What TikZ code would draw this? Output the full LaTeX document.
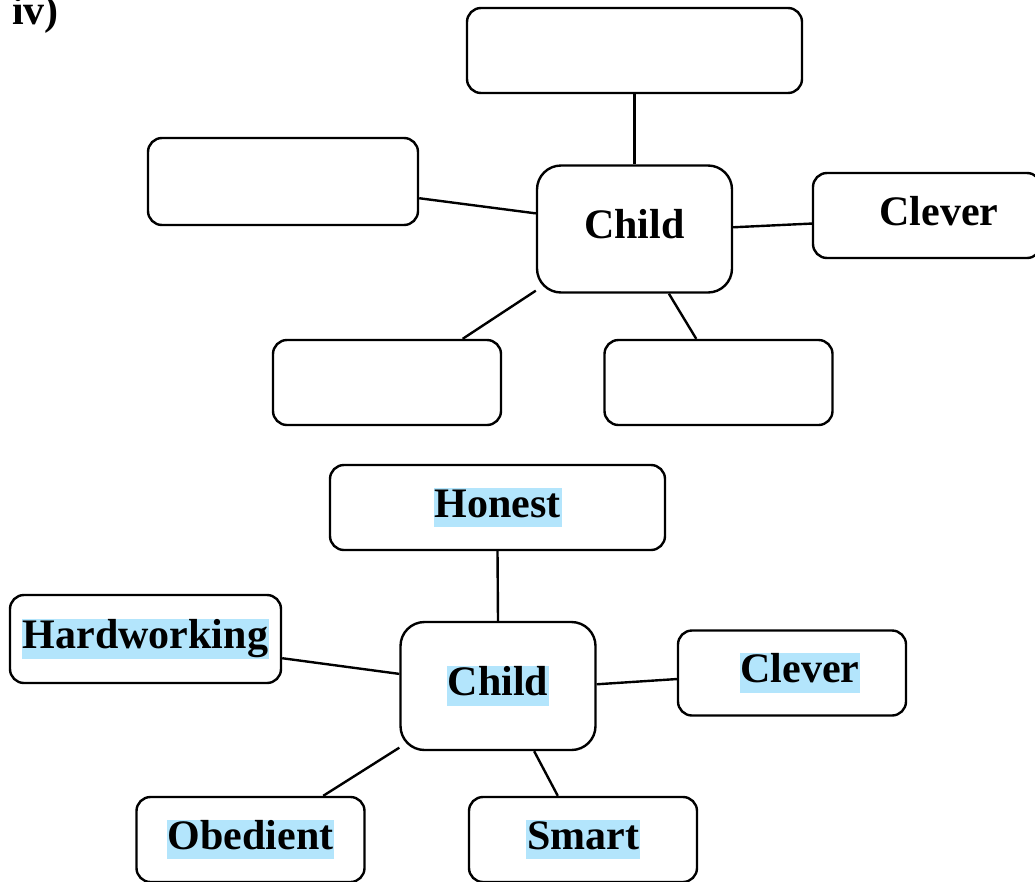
\documentclass[tikz,border=0pt]{standalone}
\usepackage{fontspec}
\setmainfont{Liberation Serif}
\definecolor{hlblue}{HTML}{B3E5FC}
\newcommand{\hl}[1]{{\setlength{\fboxsep}{0pt}\colorbox{hlblue}{\rule[-10pt]{0pt}{39pt}\kern1pt#1\kern1pt}}}
\newcommand{\nohl}[1]{\rule[-10pt]{0pt}{39pt}#1}

\begin{document}
\begin{tikzpicture}
[x=1pt,y=-1pt,line width=2.4pt,
  box/.style={draw,rounded corners=14pt,minimum width=228pt,minimum height=85pt,
    inner sep=0pt,font=\bfseries\fontsize{42}{50}\selectfont},
  hub/.style={box,rounded corners=24pt,minimum width=195pt,minimum height=127pt}]
  \path[use as bounding box,clip] (0,0) rectangle (1035,881);

  \node[anchor=base west,inner sep=0pt,font=\bfseries\fontsize{42}{50}\selectfont] (num) at (11,24) {iv)};

  % blank web
  \node[box,minimum width=335pt] (ttop) at (634.5,50.5) {};
  \node[box,minimum width=270pt,minimum height=87pt] (tleft) at (283,181.5) {};
  \node[hub] (tchild) at (634.5,229) {\nohl{Child}};
  \node[box] (tclever) at (927,215.5) {\hspace{24pt}\nohl{Clever}};
  \node[box] (tbl) at (387,382.5) {};
  \node[box] (tbr) at (718.5,382.5) {};

  % filled web
  \node[box,minimum width=335pt] (honest) at (497.5,507.5) {\hl{Honest}};
  \node[box,minimum width=271pt,minimum height=88pt] (hardworking) at (145.5,639) {\hl{Hardworking}};
  \node[hub,minimum height=128pt] (child) at (498,686) {\hl{Child}};
  \node[box] (clever) at (792,673) {\hspace{16pt}\hl{Clever}};
  \node[box] (obedient) at (250.5,839.5) {\hl{Obedient}};
  \node[box] (smart) at (583,839.5) {\hl{Smart}};

   \foreach \from/\to in {ttop.south/tchild.north, tleft.-7.8/tchild.171.8,
      tchild.1.8/tclever.-176.7, tchild.-148/tbl.30.9, tchild.-62/tbr.117.9,
      honest.south/child.north, hardworking.-8/child.173,
      child.1.75/clever.-177, child.-148/obedient.31.4, child.-61.3/smart.120.5}
     \draw (\from) -- (\to);

\end{tikzpicture}
\end{document}
